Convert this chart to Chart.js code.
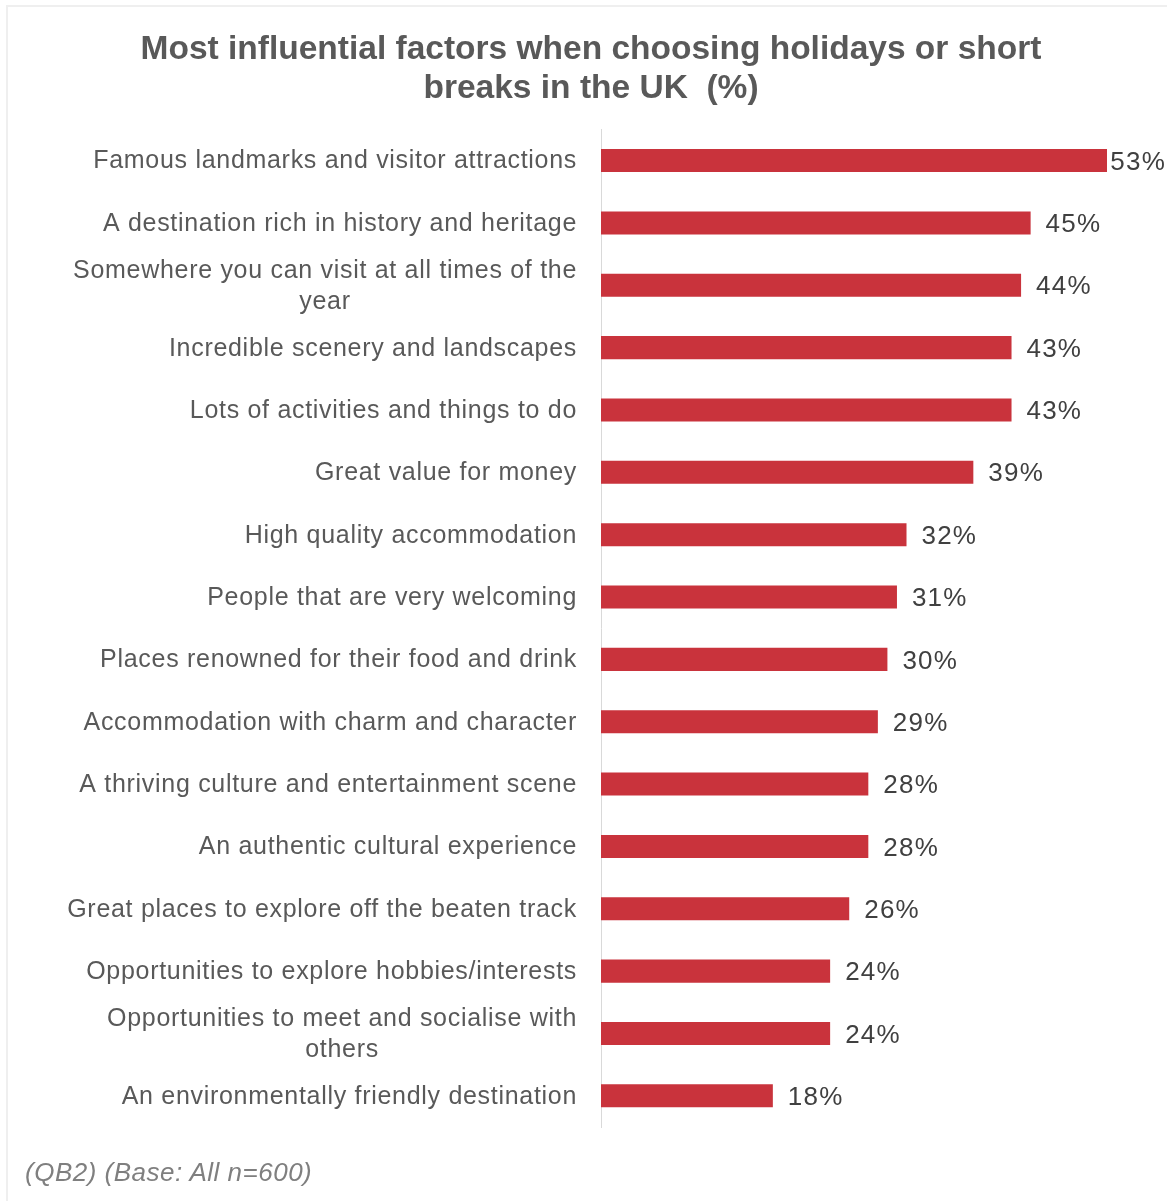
<!DOCTYPE html>
<html>
<head>
<meta charset="utf-8">
<script src="https://cdn.jsdelivr.net/npm/chart.js@4.4.0/dist/chart.umd.min.js"></script>
<style>
  body { margin: 0; background: #fff; }
  #wrap { position: relative; width: 1167px; height: 1201px; overflow: hidden; }
  #frame {
    position: absolute; left: 6px; top: 5px; right: -10px; bottom: -10px;
    border-top: 2px solid #efefef; border-left: 2px solid #efefef;
    pointer-events: none;
  }
  #note {
    position: absolute; left: 25px; top: 1157px;
    font: italic 26px "Liberation Sans", Arial, sans-serif;
    letter-spacing: 0.5px;
    line-height: 30px; color: #7f7f7f;
  }
</style>
</head>
<body>
<div id="wrap">
  <canvas id="myChart" width="1167" height="1201"></canvas>
  <div id="frame"></div>
  <div id="note">(QB2) (Base: All n=600)</div>
</div>
<script>
const ctx = document.getElementById('myChart');

// factor names, top to bottom (arrays wrap onto two lines)
const factors = [
  'Famous landmarks and visitor attractions',
  'A destination rich in history and heritage',
  ['Somewhere you can visit at all times of the', 'year'],
  'Incredible scenery and landscapes',
  'Lots of activities and things to do',
  'Great value for money',
  'High quality accommodation',
  'People that are very welcoming',
  'Places renowned for their food and drink',
  'Accommodation with charm and character',
  'A thriving culture and entertainment scene',
  'An authentic cultural experience',
  'Great places to explore off the beaten track',
  'Opportunities to explore hobbies/interests',
  ['Opportunities to meet and socialise with', 'others'],
  'An environmentally friendly destination'
];

// % of respondents
const pct = [53, 45, 44, 43, 43, 39, 32, 31, 30, 29, 28, 28, 26, 24, 24, 18];

const barColor = '#C9333C';
const FONT = '"Liberation Sans", Arial, sans-serif';

// category names on the left: right aligned, wrapped lines centred on each other
const sideLabels = {
  id: 'sideLabels',
  afterDraw(chart) {
    const c = chart.ctx;
    const yAxis = chart.scales.y;
    const xRight = yAxis.right - 24;
    const lh = 31;
    c.save();
    c.font = '25px ' + FONT;
    c.letterSpacing = '0.7px';
    c.fillStyle = '#595959';
    c.textBaseline = 'middle';
    c.textAlign = 'center';
    factors.forEach((lab, i) => {
      const lines = Array.isArray(lab) ? lab : [lab];
      const w = Math.max(...lines.map(l => c.measureText(l).width));
      const cy = yAxis.getPixelForTick(i) + 1;
      const y0 = cy - (lines.length - 1) * lh / 2;
      lines.forEach((l, k) => {
        c.fillText(l, xRight - w / 2, y0 + k * lh);
      });
    });
    c.restore();
  }
};

// value labels at the end of each bar
const valueLabels = {
  id: 'valueLabels',
  afterDatasetsDraw(chart) {
    const c = chart.ctx;
    const meta = chart.getDatasetMeta(0);
    c.save();
    c.font = '26px ' + FONT;
    c.letterSpacing = '1.2px';
    c.fillStyle = '#404040';
    c.textBaseline = 'middle';
    c.textAlign = 'left';
    meta.data.forEach((bar, i) => {
      const txt = pct[i] + '%';
      const w = c.measureText(txt).width;
      let x = bar.x + 15;
      if (x + w > chart.width - 1) x = chart.width - 1 - w;
      c.fillText(txt, x, bar.y + 2);
    });
    c.restore();
  }
};

let cc = new Chart(ctx, {
  type: 'bar',
  data: {
    labels: factors,
    datasets: [{
      data: pct,
      backgroundColor: barColor,
      borderWidth: 0,
      barPercentage: 0.37,
      categoryPercentage: 1
    }]
  },
  options: {
    indexAxis: 'y',
    responsive: false,
    animation: false,
    layout: { padding: { left: 75, right: 60, top: 0, bottom: 74 } },
    scales: {
      x: { display: false, min: 0, max: 53 },
      y: {
        ticks: { display: false },
        grid: { display: false, drawTicks: false },
        border: { display: true, color: '#D9D9D9', width: 1 },
        afterFit(scale) { scale.width = 526; }
      }
    },
    plugins: {
      legend: { display: false },
      tooltip: { enabled: false },
      title: {
        display: true,
        text: ['Most influential factors when choosing holidays or short', 'breaks in the UK  (%)'],
        color: '#595959',
        font: { family: FONT, size: 33.5, weight: 'bold', lineHeight: 1.17 },
        padding: { top: 30, bottom: 21 }
      }
    }
  },
  plugins: [sideLabels, valueLabels]
});
</script>
</body>
</html>
